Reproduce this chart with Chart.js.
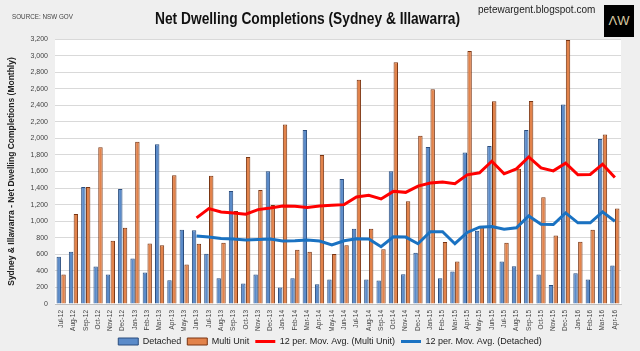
<!DOCTYPE html>
<html>
<head>
<meta charset="utf-8">
<script src="https://cdn.jsdelivr.net/npm/chart.js@4"></script>
<style>
  html, body { margin: 0; padding: 0; background: #efefef; }
  #wrap { position: relative; width: 640px; height: 351px; font-family: "Liberation Sans", Arial, sans-serif; }
  #source { position: absolute; left: 12px; top: 13px; font-size: 7px; color: #444; transform: scaleX(0.9); transform-origin: left top; white-space: nowrap; }
  #title { position: absolute; left: 155px; top: 10px; font-size: 16px; font-weight: bold; color: #111; transform: scaleX(0.86); transform-origin: left top; white-space: nowrap; }
  #site { position: absolute; left: 478px; top: 4px; font-size: 10px; color: #222; white-space: nowrap; }
  #logo { position: absolute; left: 604px; top: 5px; width: 30px; height: 32px; background: #000; color: #d9c9a0; font-size: 13px; text-align: center; line-height: 32px; }
  canvas { position: absolute; left: 0; top: 0; }
</style>
</head>
<body>
<div id="wrap">
  <canvas id="myChart" width="640" height="351"></canvas>
  <div id="source">SOURCE: NSW GOV</div>
  <div id="title">Net Dwelling Completions (Sydney &amp; Illawarra)</div>
  <div id="site">petewargent.blogspot.com</div>
  <div id="logo">ΛW</div>
</div>
<script>
var months = ['Jul-12','Aug-12','Sep-12','Oct-12','Nov-12','Dec-12',
  'Jan-13','Feb-13','Mar-13','Apr-13','May-13','Jun-13','Jul-13','Aug-13','Sep-13','Oct-13','Nov-13','Dec-13',
  'Jan-14','Feb-14','Mar-14','Apr-14','May-14','Jun-14','Jul-14','Aug-14','Sep-14','Oct-14','Nov-14','Dec-14',
  'Jan-15','Feb-15','Mar-15','Apr-15','May-15','Jun-15','Jul-15','Aug-15','Sep-15','Oct-15','Nov-15','Dec-15',
  'Jan-16','Feb-16','Mar-16','Apr-16'];

var detached = [572, 632, 1412, 452, 356, 1388,
  548, 380, 1928, 288, 896, 892, 608, 312, 1364, 248, 356, 1604,
  200, 312, 2100, 240, 296, 1508, 908, 296, 284, 1604, 360, 620,
  1896, 312, 392, 1828, 884, 1908, 512, 456, 2100, 356, 228, 2408,
  372, 296, 1992, 464];

var multiUnit = [356, 1088, 1412, 1892, 764, 920,
  1960, 732, 708, 1556, 476, 728, 1548, 740, 1124, 1776, 1376, 1196,
  2168, 656, 632, 1800, 604, 708, 2708, 908, 660, 2920, 1240, 2032,
  2592, 748, 512, 3056, 944, 2448, 740, 1632, 2452, 1288, 828, 3188,
  752, 896, 2048, 1152];

// 12 month moving averages (start at Jun-13)
var maMulti = [null, null, null, null, null, null,
  null, null, null, null, null, 1040, 1152, 1112, 1100, 1084, 1140, 1160,
  1184, 1180, 1164, 1184, 1192, 1200, 1292, 1312, 1268, 1360, 1348, 1424,
  1460, 1472, 1452, 1560, 1584, 1724, 1572, 1632, 1776, 1644, 1608, 1700,
  1560, 1564, 1688, 1528];

var maDetached = [null, null, null, null, null, null,
  null, null, null, null, null, 820, 808, 792, 784, 772, 780, 784,
  760, 764, 772, 760, 712, 764, 788, 784, 692, 812, 808, 728,
  872, 872, 728, 864, 928, 936, 904, 920, 1064, 964, 960, 1100,
  980, 980, 1112, 1000];

var yTicks = { min: 0, max: 3200, step: 200 };

var font = "'Liberation Sans', Arial, sans-serif";

// white plot area
var plotBg = {
  id: 'plotBg',
  beforeDraw: function(chart) {
    var a = chart.chartArea, c = chart.ctx;
    c.save();
    c.fillStyle = '#ffffff';
    c.fillRect(a.left, a.top, a.right - a.left, a.bottom - a.top);
    c.restore();
  }
};

// nudge legend a little left, like the original
var legendShift = {
  id: 'legendShift',
  afterLayout: function(chart) {
    chart.legend.left -= 8;
    chart.legend.right -= 8;
  }
};

var ctx = document.getElementById('myChart').getContext('2d');
var myChart = new Chart(ctx, {
  type: 'bar',
  data: {
    labels: months,
    datasets: [{
      label: 'Detached',
      data: detached,
      backgroundColor: '#5b8bc9',
      borderColor: '#2a4d7e',
      borderWidth: 1,
      pointStyle: 'rect',
      order: 2
    }, {
      label: 'Multi Unit',
      data: multiUnit,
      backgroundColor: '#e2834b',
      borderColor: '#7a3512',
      borderWidth: 1,
      pointStyle: 'rect',
      order: 2
    }, {
      type: 'line',
      label: '12 per. Mov. Avg. (Multi Unit)',
      data: maMulti,
      borderColor: '#ff0000',
      backgroundColor: '#ff0000',
      borderWidth: 3,
      pointRadius: 0,
      pointStyle: 'line',
      tension: 0,
      order: 1
    }, {
      type: 'line',
      label: '12 per. Mov. Avg. (Detached)',
      data: maDetached,
      borderColor: '#1a72c2',
      backgroundColor: '#1a72c2',
      borderWidth: 3,
      pointRadius: 0,
      pointStyle: 'line',
      tension: 0,
      order: 1
    }]
  },
  options: {
    responsive: false,
    animation: false,
    layout: { padding: { top: 39, right: 19, left: 0, bottom: -5 } },
    datasets: {
      bar: { categoryPercentage: 0.78, barPercentage: 0.92 }
    },
    plugins: {
      tooltip: { enabled: false },
      legend: {
        position: 'bottom',
        fullSize: false,
        labels: {
          usePointStyle: true,
          pointStyleWidth: 20,
          boxHeight: 7,
          padding: 6,
          color: '#222',
          font: { family: font, size: 9 },
          sort: function(a, b) { return a.datasetIndex - b.datasetIndex; }
        }
      }
    },
    scales: {
      x: {
        afterFit: function(s) { s.height = 27; },
        grid: { display: false, drawTicks: false },
        border: { color: '#bfbfbf' },
        ticks: {
          autoSkip: false,
          minRotation: 90,
          maxRotation: 90,
          padding: 6,
          color: '#444',
          font: { family: font, size: 6.5 }
        }
      },
      y: {
        min: yTicks.min,
        max: yTicks.max,
        afterFit: function(s) { s.width = 55; },
        grid: { color: '#d9d9d9', drawTicks: false },
        border: { display: false },
        ticks: {
          stepSize: yTicks.step,
          padding: 7,
          color: '#444',
          font: { family: font, size: 7 },
          callback: function(v) { return v.toLocaleString('en-US'); }
        },
        title: {
          display: true,
          text: 'Sydney & Illawarra - Net Dwelling Completions (Monthly)',
          color: '#222',
          padding: { top: 7, bottom: 0 },
          font: { family: font, size: 8.5, weight: 'bold' }
        }
      }
    }
  },
  plugins: [plotBg, legendShift]
});
</script>
</body>
</html>
